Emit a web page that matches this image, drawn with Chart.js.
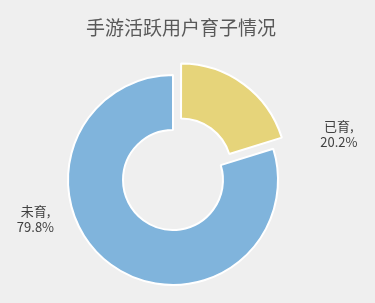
<!DOCTYPE html>
<html>
<head>
<meta charset="utf-8">
<script src="https://cdn.jsdelivr.net/npm/chart.js@4"></script>
<style>
  html, body { margin: 0; padding: 0; background: #efefef; }
  #wrap { position: relative; width: 375px; height: 303px; }
  #title {
    position: absolute; left: 0; top: 16px; width: 362px;
    text-align: center; font: 19px "Noto Sans CJK SC", sans-serif;
    line-height: 22px; color: #595959;
  }
</style>
</head>
<body>
<div id="wrap">
  <div id="title">手游活跃用户育子情况</div>
  <canvas id="myChart" width="375" height="303"></canvas>
</div>
<script>
const categories = ['已育', '未育'];
const shares = [20.2, 79.8];
const colors = ['#e6d47a', '#80b4dc'];

// where each label sits, relative to the chart centre, in outer radii
const labelSpots = [[1.58, -0.44], [-1.31, 0.37]];

const sliceLabels = {
  id: 'sliceLabels',
  afterDatasetsDraw(chart) {
    const { ctx } = chart;
    const meta = chart.getDatasetMeta(0);
    ctx.save();
    ctx.font = '13px "Noto Sans CJK SC", sans-serif';
    ctx.fillStyle = '#404040';
    ctx.textAlign = 'center';
    ctx.textBaseline = 'middle';
    meta.data.forEach((arc, i) => {
      const r = arc.outerRadius;
      const x = arc.x + labelSpots[i][0] * r;
      const y = arc.y + labelSpots[i][1] * r;
      ctx.fillText(categories[i] + ',', x, y - 8);
      ctx.fillText(shares[i].toFixed(1) + '%', x, y + 8);
    });
    ctx.restore();
  }
};

const ctx = document.getElementById('myChart').getContext('2d');
const myChart = new Chart(ctx, {
  type: 'doughnut',
  data: {
    labels: categories,
    datasets: [{
      data: shares,
      backgroundColor: colors,
      borderColor: '#ffffff',
      borderWidth: 2,
      offset: [54, 0]
    }]
  },
  options: {
    responsive: false,
    animation: false,
    radius: 105,
    cutout: '47.6%',
    layout: { padding: { left: 0, right: 29, top: 57, bottom: 0 } },
    plugins: {
      legend: { display: false },
      tooltip: { enabled: false }
    }
  },
  plugins: [sliceLabels]
});
</script>
</body>
</html>
